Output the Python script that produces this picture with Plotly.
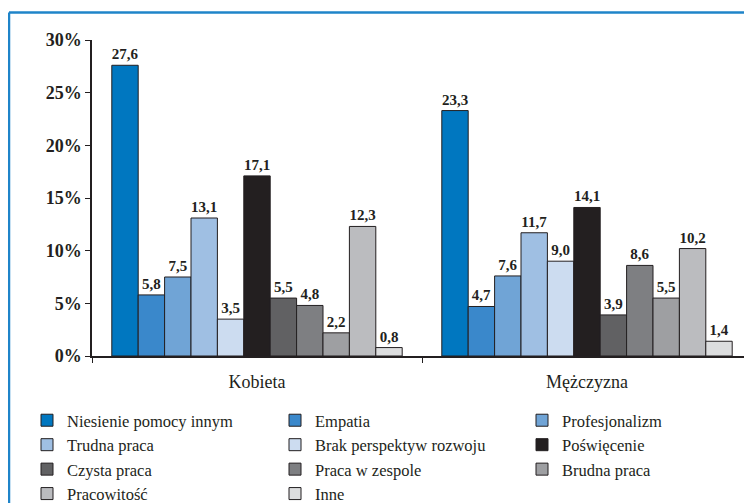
import plotly.graph_objects as go

# Data
categories = ["Kobieta", "Mężczyzna"]
answers = [
    "Niesienie pomocy innym",
    "Empatia",
    "Profesjonalizm",
    "Trudna praca",
    "Brak perspektyw rozwoju",
    "Poświęcenie",
    "Czysta praca",
    "Praca w zespole",
    "Brudna praca",
    "Pracowitość",
    "Inne",
]
kobieta = [27.6, 5.8, 7.5, 13.1, 3.5, 17.1, 5.5, 4.8, 2.2, 12.3, 0.8]
mezczyzna = [23.3, 4.7, 7.6, 11.7, 9.0, 14.1, 3.9, 8.6, 5.5, 10.2, 1.4]
y_ticks = [0, 5, 10, 15, 20, 25, 30]
y_tick_labels = ["0%", "5%", "10%", "15%", "20%", "25%", "30%"]

colors = [
    "#0077c0", "#3a88cb", "#70a4d6", "#9fbfe3", "#ccdcf0", "#231f20",
    "#616163", "#7e7f82", "#9e9fa2", "#bbbcbf", "#dcddde",
]

FONT = "Liberation Serif, Times New Roman, serif"
INK = "#231f20"
FRAME = "#1f84c9"

fig = go.Figure()

# One bar trace per answer; legends split into three columns
legend_names = ["legend", "legend2", "legend3"]
for i, name in enumerate(answers):
    vals = [kobieta[i], mezczyzna[i]]
    fig.add_trace(
        go.Bar(
            x=categories,
            y=vals,
            name=name,
            marker=dict(color=colors[i], line=dict(color=INK, width=1)),
            text=[f"{v:.1f}".replace(".", ",") for v in vals],
            textposition="outside",
            constraintext="none",
            textfont=dict(family=FONT, size=15, color=INK, weight="bold"),
            cliponaxis=False,
            legend=legend_names[i % 3],
            legendgroup=name,
        )
    )

legend_style = dict(
    xref="container",
    yref="container",
    yanchor="top",
    xanchor="left",
    y=1 - 395 / 503,
    font=dict(family=FONT, size=16.5, color=INK),
    tracegroupgap=0,
    bgcolor="rgba(0,0,0,0)",
)

fig.update_layout(
    barmode="group",
    bargap=0.12,
    bargroupgap=0,
    width=752,
    height=503,
    margin=dict(l=84, r=8, t=32, b=155, autoexpand=False),
    paper_bgcolor="white",
    plot_bgcolor="white",
    font=dict(family=FONT, color=INK),
    legend=dict(x=19 / 752, **legend_style),
    legend2=dict(x=267 / 752, **legend_style),
    legend3=dict(x=514 / 752, **legend_style),
    xaxis=dict(
        type="category",
        tickson="boundaries",
        ticks="outside",
        ticklen=5,
        tickcolor=INK,
        showline=True,
        linecolor=INK,
        linewidth=1.5,
        showgrid=False,
        ticklabelstandoff=9,
        tickfont=dict(family=FONT, size=18, color=INK),
    ),
    yaxis=dict(
        range=[0, 30],
        tickvals=y_ticks,
        ticktext=y_tick_labels,
        ticks="outside",
        ticklen=5,
        tickcolor=INK,
        showline=True,
        linecolor=INK,
        linewidth=1.5,
        showgrid=False,
        zeroline=False,
        tickfont=dict(family=FONT, size=18, color=INK, weight="bold"),
    ),
)

# Blue frame (top and left edges)
frame_x = (1 - 84) / 660
frame_y = (348 - 4.5) / 316
fig.add_shape(type="line", xref="paper", yref="paper",
              x0=frame_x, x1=1.02, y0=frame_y, y1=frame_y,
              line=dict(color=FRAME, width=2.5))
fig.add_shape(type="line", xref="paper", yref="paper",
              x0=frame_x, x1=frame_x, y0=frame_y, y1=-0.5,
              line=dict(color=FRAME, width=2.5))

fig.write_html("out.html")
